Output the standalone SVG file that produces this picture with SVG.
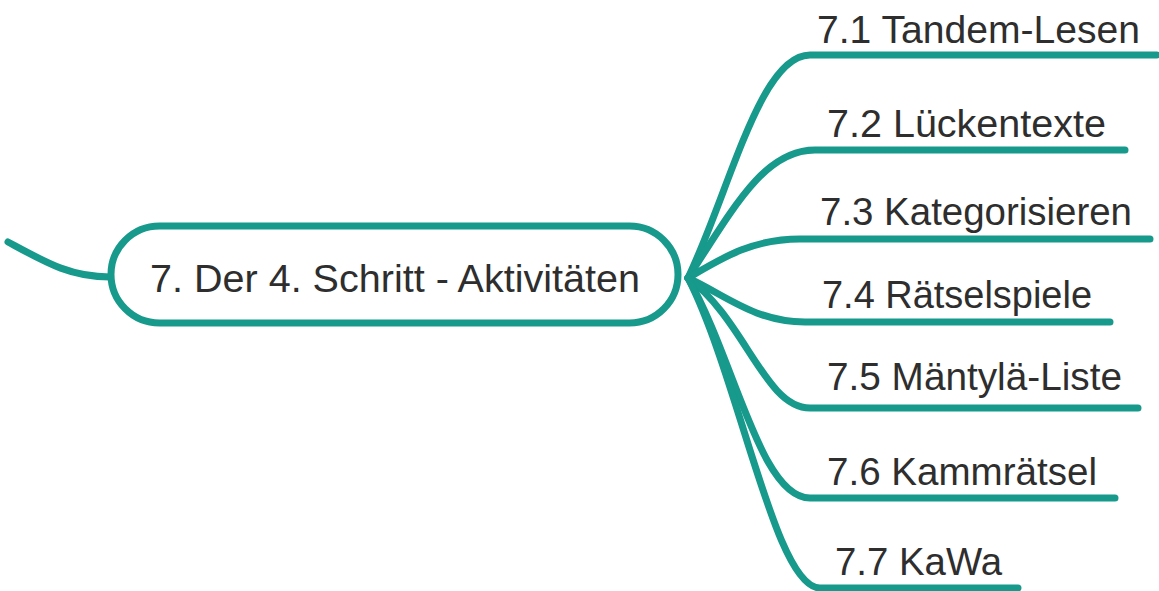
<svg xmlns="http://www.w3.org/2000/svg" width="1159" height="591" viewBox="0 0 1159 591">
<style>
.c{fill:none;stroke:#17998b;stroke-width:7;stroke-linecap:round;stroke-linejoin:round}
.t{font-family:"Liberation Sans",Arial,Helvetica,sans-serif;fill:#2e2e2e;font-size:38px}
.box{fill:#fff;stroke:#17998b;stroke-width:7}
</style>
<rect width="1159" height="591" fill="#fff"/>
<g id="connectors">
<path class="c" d="M8,242 C45,262 70,277 110,277"/>
<path class="c" d="M688,278 C730,190 760,55 810,55 L1157,55"/>
<path class="c" d="M688,278 C735,205 765,150 815,150 L1125,150"/>
<path class="c" d="M688,278 C722,258 752,239 800,239 L1150,239"/>
<path class="c" d="M688,278 C725,295 755,322 805,322 L1110,322"/>
<path class="c" d="M688,278 C745,320 765,408 810,408 L1138,408"/>
<path class="c" d="M688,278 C735,360 760,498 810,498 L1115,498"/>
<path class="c" d="M688,278 C740,380 775,588 820,588 L1018,588"/>
</g>
<g id="node-main">
<rect class="box" x="111" y="226" width="567" height="97" rx="48.5"/>
<text class="t" x="150" y="292" font-size="39" textLength="490" lengthAdjust="spacingAndGlyphs">7. Der 4. Schritt - Aktivitäten</text>
</g>
<g id="node-7-1"><text class="t" x="817" y="43" textLength="323" lengthAdjust="spacingAndGlyphs">7.1 Tandem-Lesen</text></g>
<g id="node-7-2"><text class="t" x="827" y="137" textLength="279" lengthAdjust="spacingAndGlyphs">7.2 Lückentexte</text></g>
<g id="node-7-3"><text class="t" x="820" y="225" textLength="312" lengthAdjust="spacingAndGlyphs">7.3 Kategorisieren</text></g>
<g id="node-7-4"><text class="t" x="822" y="308" textLength="270" lengthAdjust="spacingAndGlyphs">7.4 Rätselspiele</text></g>
<g id="node-7-5"><text class="t" x="827" y="390" textLength="295" lengthAdjust="spacingAndGlyphs">7.5 Mäntylä-Liste</text></g>
<g id="node-7-6"><text class="t" x="827" y="485" textLength="270" lengthAdjust="spacingAndGlyphs">7.6 Kammrätsel</text></g>
<g id="node-7-7"><text class="t" x="835" y="575" textLength="167" lengthAdjust="spacingAndGlyphs">7.7 KaWa</text></g>
</svg>
